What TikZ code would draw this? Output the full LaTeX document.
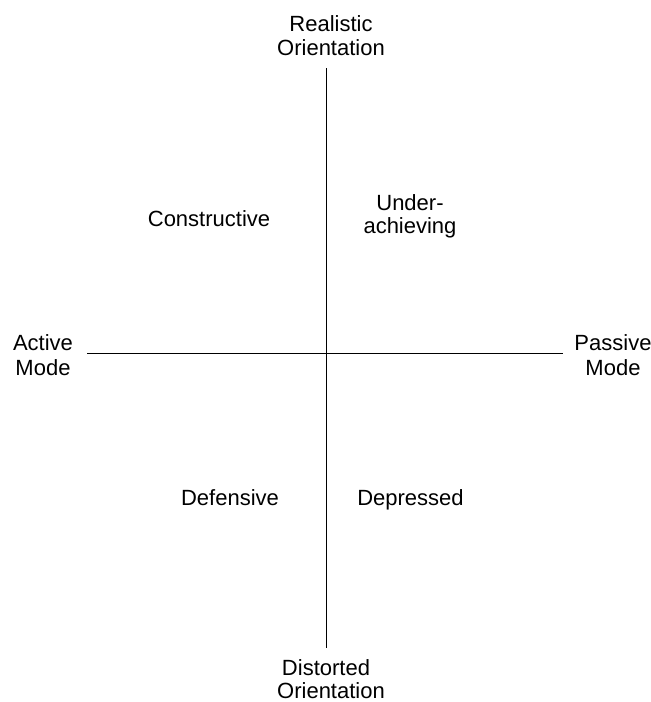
\documentclass[tikz,border=0pt]{standalone}
\usepackage{fontspec}
\setmainfont{Liberation Sans}
\begin{document}
\begin{tikzpicture}[x=1pt,y=-1pt,
  lbl/.style={inner sep=0pt,align=center,font=\fontsize{22}{23.5}\selectfont},
  axis/.style={line width=1.8pt}]
\useasboundingbox (0,0) rectangle (651,702);
% axes end points
\coordinate (top) at (326.5,68);
\coordinate (bot) at (326.5,648);
\coordinate (lft) at (87,353.5);
\coordinate (rgt) at (563,353.5);
\draw[axis] (top) -- (bot);
\draw[axis] (lft) -- (rgt);
% labels
\node[lbl,anchor=base] (real) at (331,31.5) {Realistic};
\node[lbl,anchor=base] (realo) at (331,55) {Orientation};
\node[lbl,anchor=base] (dist) at (326,675) {Distorted};
\node[lbl,anchor=base] (disto) at (331,698) {Orientation};
\node[lbl,anchor=base] (act) at (43,350.5) {Active};
\node[lbl,anchor=base] (actm) at (43,375) {Mode};
\node[lbl,anchor=base] (pas) at (613,350.5) {Passive};
\node[lbl,anchor=base] (pasm) at (613,375) {Mode};
\node[lbl,anchor=base] (con) at (209,226.5) {Constructive};
\node[lbl,anchor=base] (und) at (410,210) {Under-};
\node[lbl,anchor=base] (undach) at (410,233.5) {achieving};
\node[lbl,anchor=base] (def) at (230,505) {Defensive};
\node[lbl,anchor=base] (dep) at (410.5,505) {Depressed};
\end{tikzpicture}
\end{document}
